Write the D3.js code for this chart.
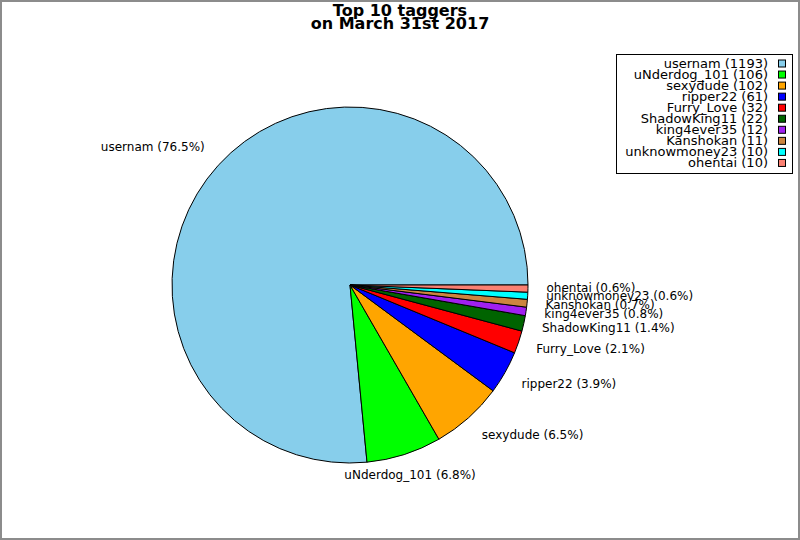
<!DOCTYPE html>
<html>
<head>
<meta charset="utf-8">
<title>Top 10 taggers</title>
<script src="https://cdn.jsdelivr.net/npm/d3@7"></script>
<style>
    body { margin: 0; background: #fff; }
    text { font-family: "DejaVu Sans", sans-serif; fill: #000; }
    .title { font-size: 16px; font-weight: bold; }
    .plabel { font-size: 12px; }
    .legend text { font-size: 13px; }
</style>
</head>
<body>
<div id="chart"></div>
<script>
// data
const taggers = ["usernam", "uNderdog_101", "sexydude", "ripper22", "Furry_Love",
                 "ShadowKing11", "king4ever35", "Kanshokan", "unknowmoney23", "ohentai"];
const counts = [1193, 106, 102, 61, 32, 22, 12, 11, 10, 10];
const colors = ["#87ceeb", "#00ff00", "#ffa500", "#0000ff", "#ff0000",
                "#006400", "#a020f0", "#cd853f", "#00ffff", "#fa8072"];
const titleLines = ["Top 10 taggers", "on March 31st 2017"];

const width = 800, height = 540;
const cx = 350, cy = 285, radius = 178;
const labelR = radius + 15.5;

const svg = d3.select("#chart").append("svg")
    .attr("width", width)
    .attr("height", height);

svg.append("rect")
    .attr("x", 1).attr("y", 1)
    .attr("width", width - 2).attr("height", height - 2)
    .attr("fill", "#fff")
    .attr("stroke", "#8c8c8c")
    .attr("stroke-width", 2);

// title
svg.append("text")
    .attr("class", "title")
    .attr("text-anchor", "middle")
    .selectAll("tspan")
    .data(titleLines)
    .enter().append("tspan")
    .attr("x", 400)
    .attr("y", (d, i) => 16 + i * 13)
    .text(d => d);

const total = d3.sum(counts);
const rows = taggers.map((name, i) => ({name: name, value: counts[i], color: colors[i]}));

// counter-clockwise from 3 o'clock
const pie = d3.pie()
    .sort(null)
    .value(d => d.value)
    .startAngle(Math.PI / 2)
    .endAngle(Math.PI / 2 - 2 * Math.PI);

const arc = d3.arc().innerRadius(0).outerRadius(radius);

const g = svg.append("g").attr("transform", `translate(${cx},${cy})`);
const arcs = pie(rows);

g.selectAll("path")
    .data(arcs)
    .enter().append("path")
    .attr("d", arc)
    .attr("fill", d => d.data.color)
    .attr("stroke", "#000")
    .attr("stroke-width", 1);

// labels placed around the pie, box anchored by angle
function anchorX(deg) {
    if (deg >= 180) return Math.max(0, Math.min(1, (310 - deg) / 45));
    if (deg <= 45) return 0;
    if (deg <= 135) return (deg - 45) / 90;
    return 1;
}
function anchorY(deg) {
    if (deg >= 315) return (deg - 315) / 90;
    if (deg >= 225) return 0;
    if (deg >= 135) return 1 - (deg - 135) / 90;
    if (deg >= 45) return 1;
    return 0.5 - deg / 90;
}

arcs.forEach(d => {
    let a = Math.PI / 2 - (d.startAngle + d.endAngle) / 2;
    while (a < 0) a += 2 * Math.PI;
    const deg = a * 180 / Math.PI;
    const xt = cx + labelR * Math.cos(a);
    const yt = cy - labelR * Math.sin(a);
    const pct = (d.data.value / total * 100).toFixed(1);
    const t = svg.append("text")
        .attr("class", "plabel")
        .text(`${d.data.name} (${pct}%)`);
    const w = t.node().getComputedTextLength();
    const mid = yt + 6.5 - anchorY(deg) * 14;
    t.attr("x", xt + 3 - anchorX(deg) * (w + 5))
     .attr("y", mid + 3.5);
});

// legend
const legend = svg.append("g").attr("class", "legend");
legend.append("rect")
    .attr("x", 616.5).attr("y", 54.5)
    .attr("width", 176).attr("height", 119)
    .attr("fill", "#fff")
    .attr("stroke", "#000");

const item = legend.selectAll(".item")
    .data(rows)
    .enter().append("g")
    .attr("class", "item")
    .attr("transform", (d, i) => `translate(0,${63.5 + i * 11.05})`);

item.append("rect")
    .attr("x", 778.5).attr("y", -3.5)
    .attr("width", 7).attr("height", 7)
    .attr("fill", d => d.color)
    .attr("stroke", "#000");

item.append("text")
    .attr("x", 768)
    .attr("y", 4.5)
    .attr("text-anchor", "end")
    .text(d => `${d.name} (${d.value})`);
</script>
</body>
</html>
